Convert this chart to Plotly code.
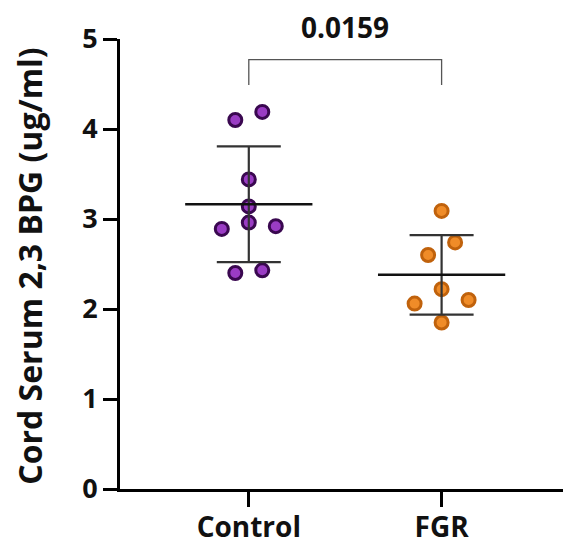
import numpy as np
import plotly.graph_objects as go

categories = ["Control", "FGR"]
control_values = [4.10, 4.19, 3.44, 3.14, 2.96, 2.89, 2.92, 2.40, 2.43]
fgr_values = [3.09, 2.74, 2.60, 2.22, 2.06, 2.10, 1.85]
control_jitter = [-0.07, 0.07, 0.0, 0.0, 0.0, -0.14, 0.14, -0.07, 0.07]
fgr_jitter = [0.0, 0.07, -0.07, 0.0, -0.14, 0.14, 0.0]
p_value_label = "0.0159"
y_title = "Cord Serum 2,3 BPG (ug/ml)"
y_ticks = [0, 1, 2, 3, 4, 5]

FONT = "Open Sans"
groups = [
    (control_values, control_jitter, "#9a3cc4", "#3a0850"),
    (fgr_values, fgr_jitter, "#f08c28", "#c0620c"),
]

fig = go.Figure()
for i, (vals, jit, fill, edge) in enumerate(groups):
    fig.add_trace(go.Scatter(
        x=[i + j for j in jit], y=vals, mode="markers",
        marker=dict(size=13, color=fill, line=dict(color=edge, width=3)),
        showlegend=False, hoverinfo="y"))

for i, (vals, jit, fill, edge) in enumerate(groups):
    m = float(np.mean(vals))
    sd = float(np.std(vals, ddof=1))
    fig.add_trace(go.Scatter(
        x=[i], y=[m], mode="markers", marker=dict(size=1, color="rgba(0,0,0,0)"),
        error_y=dict(type="data", array=[sd], visible=True, color="#333333",
                     thickness=2.2, width=32),
        showlegend=False, hoverinfo="skip"))
    fig.add_trace(go.Scatter(
        x=[i - 0.33, i + 0.33], y=[m, m], mode="lines",
        line=dict(color="#111111", width=2.5), showlegend=False, hoverinfo="skip"))

# significance bracket
fig.add_trace(go.Scatter(
    x=[0, 0, 1, 1], y=[4.49, 4.77, 4.77, 4.49], mode="lines",
    line=dict(color="#555555", width=1.3), showlegend=False, hoverinfo="skip",
    cliponaxis=False))
fig.add_annotation(x=0.5, y=4.77, yref="y", xref="x", text="<b>%s</b>" % p_value_label,
                   showarrow=False, yshift=33,
                   font=dict(family=FONT, size=28, color="#111111", weight=800))
fig.add_annotation(x=-0.2022, y=0.494, xref="paper", yref="paper", textangle=-90,
                   text="<b>%s</b>" % y_title, showarrow=False,
                   xanchor="center", yanchor="middle",
                   font=dict(family=FONT, size=32, color="#111111", weight=800))

# page body has an 8px default margin: compensate so the plot area lands
# at the reference position
fig.update_layout(
    width=571, height=547,
    margin=dict(l=112, r=14, t=31, b=66),
    paper_bgcolor="white", plot_bgcolor="white",
    font=dict(family=FONT, color="#111111"),
)
fig.update_xaxes(
    range=[-0.668, 1.64], tickmode="array", tickvals=[0, 1],
    ticktext=["<b>%s</b>" % c for c in categories], automargin=False,
    showline=True, linecolor="black", linewidth=3, ticks="outside",
    ticklen=15, tickwidth=3, tickcolor="black", showgrid=False, zeroline=False,
    ticklabelstandoff=-4,
    tickfont=dict(family=FONT, size=28, color="#111111", weight=800),
)
fig.update_yaxes(
    range=[0, 5], tickmode="array", tickvals=y_ticks,
    ticktext=["<b>%d</b>" % t for t in y_ticks], automargin=False,
    showline=True, linecolor="black", linewidth=3, ticks="outside",
    ticklen=14, tickwidth=3, tickcolor="black", showgrid=False, zeroline=False,
    tickfont=dict(family=FONT, size=27, color="#111111", weight=800),
)
fig.write_html("out.html")
